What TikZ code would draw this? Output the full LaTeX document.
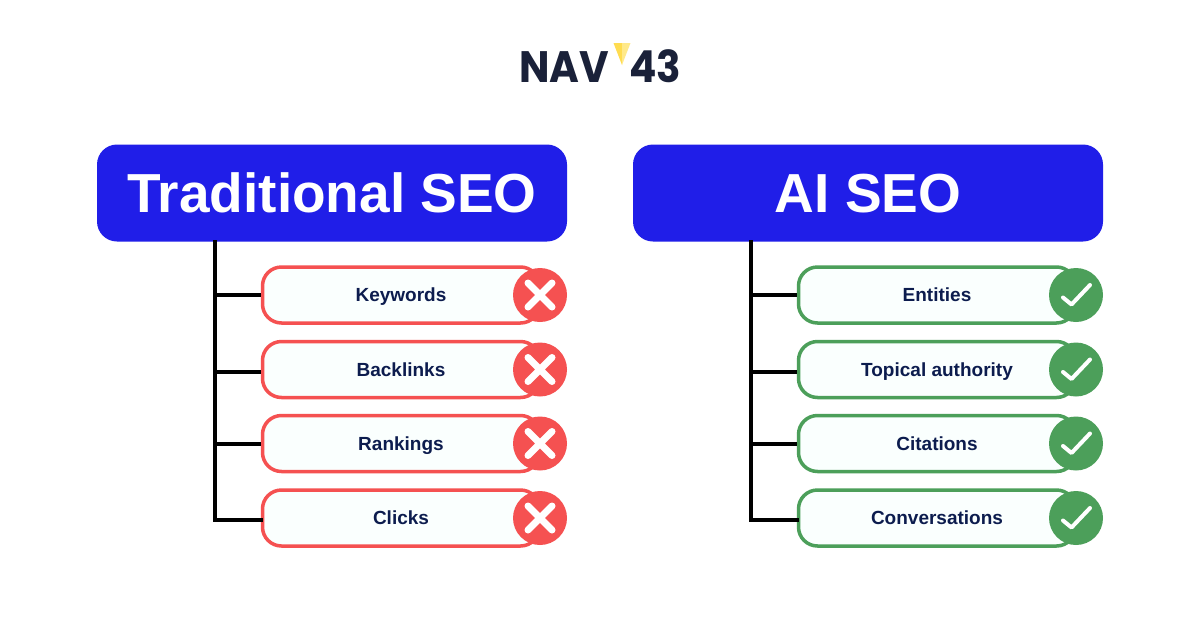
\documentclass[tikz,border=0pt]{standalone}
\usepackage{fontspec}
\setmainfont{Liberation Sans}
\newfontfamily\logofont[FakeStretch=0.92]{Poppins}
\definecolor{headblue}{HTML}{201EE8}
\definecolor{badred}{HTML}{F55151}
\definecolor{goodgreen}{HTML}{4C9F5A}
\definecolor{inktext}{HTML}{0C1C4E}
\definecolor{logoink}{HTML}{1A2139}
\definecolor{pillfill}{HTML}{FAFFFE}
\definecolor{logoyellow}{HTML}{FFDC50}
\definecolor{logoyellowb}{HTML}{FFE98A}
\tikzset{
  x=1pt,y=-1pt,
  headbox/.style={fill=headblue,rounded corners=20pt,minimum width=470pt,minimum height=97pt,inner sep=0,text=white,text height=42pt,text depth=4pt,font=\fontsize{55}{60}\selectfont\bfseries},
  pillbox/.style={draw=#1,line width=3.5pt,fill=pillfill,rounded corners=19pt,minimum width=277pt,minimum height=56pt,inner sep=0,text=inktext,text height=13pt,text depth=0pt,font=\fontsize{19}{22}\selectfont\bfseries},
  badge/.style={circle,fill=#1,minimum size=54pt,inner sep=0},
  treeline/.style={line width=4pt,black},
  xmark/.style={white,line width=7pt,line cap=round},
  vmark/.style={white,line width=4pt,line cap=round,line join=round},
  logotext/.style={text=logoink,inner sep=0,text height=31pt,text depth=0pt,font=\logofont\fontsize{44}{46}\selectfont\bfseries}
}
\newcommand{\xglyph}[1]{\draw[xmark] ([shift={(-12,-12)}]#1.center) -- ([shift={(12,12)}]#1.center) ([shift={(-12,12)}]#1.center) -- ([shift={(12,-12)}]#1.center);}
\newcommand{\vglyph}[1]{\draw[vmark] ([shift={(-13,2.5)}]#1.center) -- ([shift={(-4.5,9.5)}]#1.center) -- ([shift={(14,-10)}]#1.center);}
\begin{document}
\begin{tikzpicture}
\useasboundingbox (0,0) rectangle (1200,630);
\fill[white] (0,0) rectangle (1200,630);
% logo
\node[logotext,anchor=center] (nav) at (564,66.5) {NAV};
\node[logotext,anchor=center] (fortythree) at (655,66.5) {43};
\fill[logoyellow] (613.5,43) -- (622,43) -- (622,65) -- cycle;
\fill[logoyellowb] (622,43) -- (630.5,43) -- (622,65) -- cycle;
% headers
\node[headbox] (hl) at (332,193) {Traditional SEO};
\node[headbox] (hr) at (868,193) {AI SEO};
% junctions
\coordinate (lj1) at (215,295);
\coordinate (lj2) at (215,372);
\coordinate (lj3) at (215,444);
\coordinate (lj4) at (215,520);
\coordinate (rj1) at (751,295);
\coordinate (rj2) at (751,372);
\coordinate (rj3) at (751,444);
\coordinate (rj4) at (751,520);
% pills
\node[pillbox=badred] (l1) at (401,295) {Keywords};
\node[pillbox=badred] (l2) at (401,369.5) {Backlinks};
\node[pillbox=badred] (l3) at (401,443.5) {Rankings};
\node[pillbox=badred] (l4) at (401,518) {Clicks};
\node[pillbox=goodgreen] (r1) at (937,295) {Entities};
\node[pillbox=goodgreen] (r2) at (937,369.5) {Topical authority};
\node[pillbox=goodgreen] (r3) at (937,443.5) {Citations};
\node[pillbox=goodgreen] (r4) at (937,518) {Conversations};
% connectors
\draw[treeline,line cap=rect] (lj1 |- hl.south) -- (lj4) -- (lj4 -| l4.west);
\draw[treeline] (lj1) -- (lj1 -| l1.west);
\draw[treeline] (lj2) -- (lj2 -| l2.west);
\draw[treeline] (lj3) -- (lj3 -| l3.west);
\draw[treeline,line cap=rect] (rj1 |- hr.south) -- (rj4) -- (rj4 -| r4.west);
\draw[treeline] (rj1) -- (rj1 -| r1.west);
\draw[treeline] (rj2) -- (rj2 -| r2.west);
\draw[treeline] (rj3) -- (rj3 -| r3.west);
% badges
\node[badge=badred] (bl1) at (540,295) {};
\node[badge=badred] (bl2) at (540,369.5) {};
\node[badge=badred] (bl3) at (540,443.5) {};
\node[badge=badred] (bl4) at (540,518) {};
\node[badge=goodgreen] (br1) at (1076,295) {};
\node[badge=goodgreen] (br2) at (1076,369.5) {};
\node[badge=goodgreen] (br3) at (1076,443.5) {};
\node[badge=goodgreen] (br4) at (1076,518) {};
\xglyph{bl1}\xglyph{bl2}\xglyph{bl3}\xglyph{bl4}
\vglyph{br1}\vglyph{br2}\vglyph{br3}\vglyph{br4}
\end{tikzpicture}
\end{document}
